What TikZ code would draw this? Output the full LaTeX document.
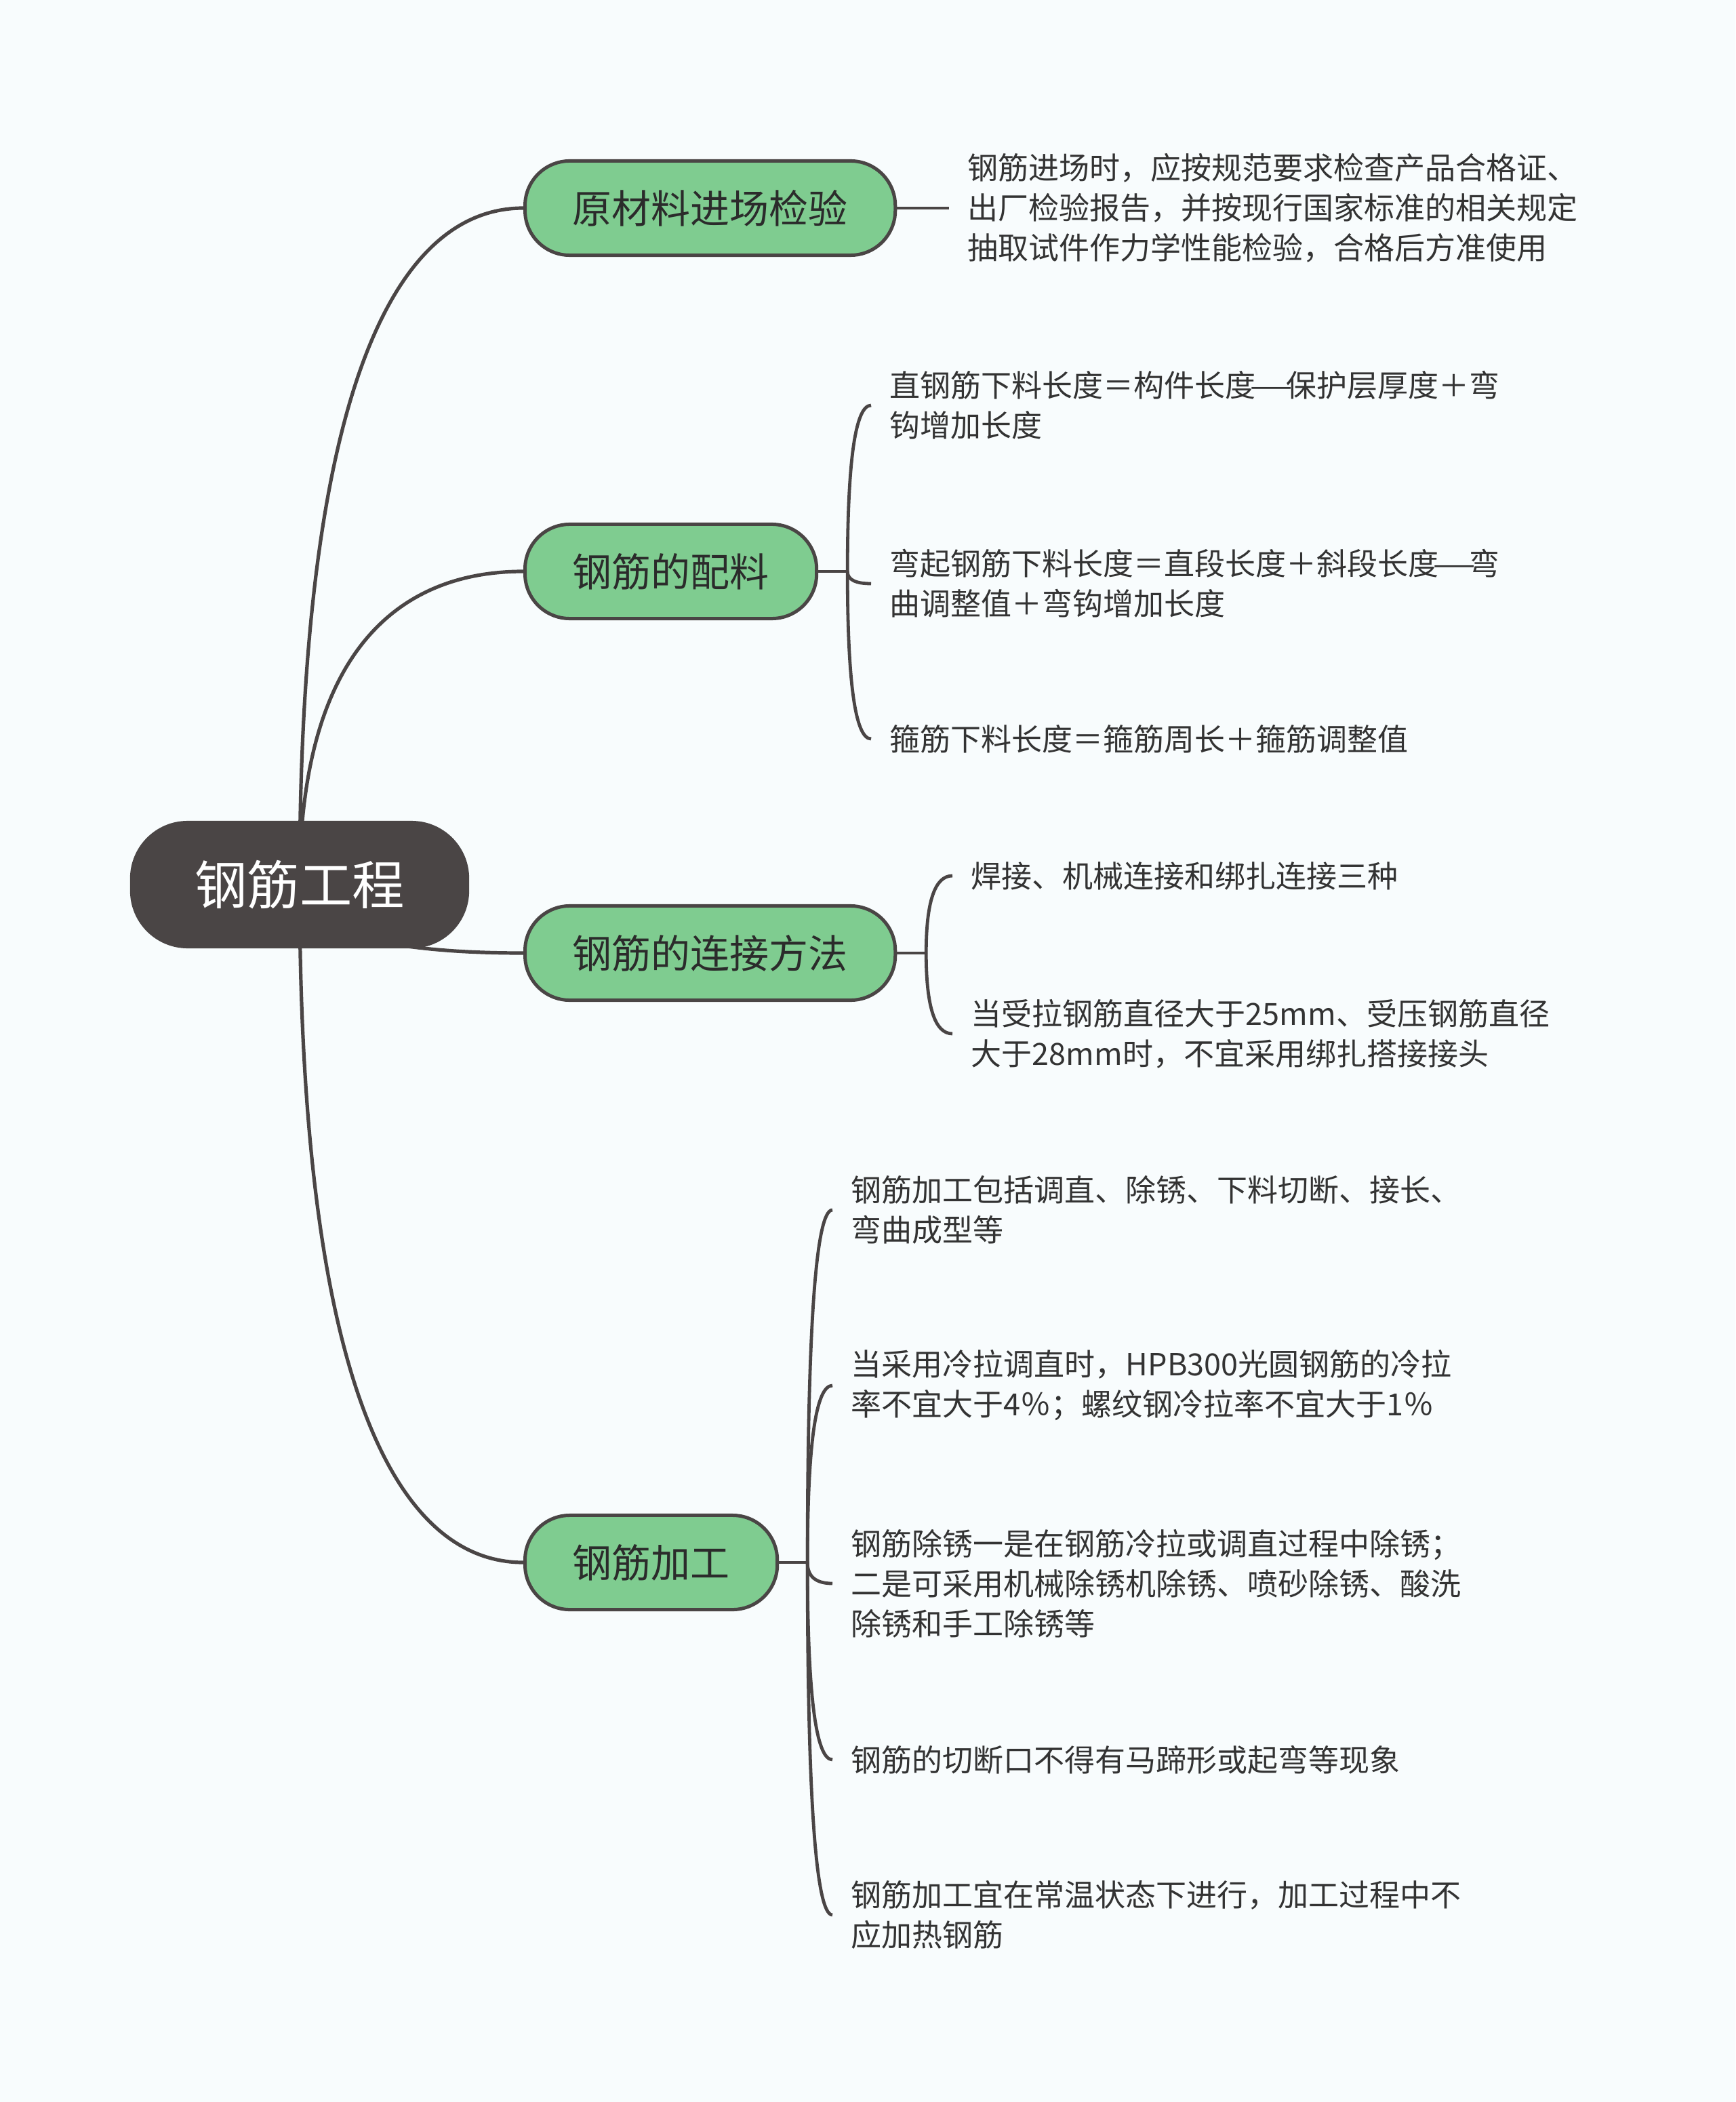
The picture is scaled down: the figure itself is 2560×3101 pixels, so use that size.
\documentclass[tikz,border=0pt]{standalone}
\usepackage{fontspec}
\setmainfont{Noto Sans CJK SC}
\usepackage{xcolor}
\usepackage{tikz}
\usetikzlibrary{calc, backgrounds}

\definecolor{inkgray}{HTML}{4A4545}
\definecolor{leafgreen}{HTML}{7FCC90}
\definecolor{paper}{HTML}{F8FCFD}
\definecolor{textgray}{HTML}{333333}

% full-width dash
\newcommand{\longbar}{\makebox[1em]{\scalebox{1.6}[1]{—}}}

\begin{document}
\begin{tikzpicture}[
  x=0.01cm, y=-0.01cm,
  topic/.style={rectangle, rounded corners=0.85cm, fill=inkgray, text=white, minimum width=5cm, minimum height=1.88cm, font=\fontsize{22}{26}\selectfont},
  branch/.style={rectangle, draw=inkgray, line width=0.05cm, rounded corners=0.66cm, fill=leafgreen, text=textgray!85!black, minimum height=1.39cm, inner xsep=0.7cm, anchor=west, font=\fontsize{16.5}{20}\selectfont},
  leaf/.style={anchor=west, align=left, inner xsep=0.27cm, inner ysep=0pt, text=textgray, font=\fontsize{12.8}{16.8}\selectfont},
  limb/.style={draw=inkgray, line width=0.052cm, to path={.. controls ($(\tikztostart)!0.75!(\tikztostart |- \tikztotarget)$) and ($(\tikztostart |- \tikztotarget)!0.45!(\tikztotarget)$) .. (\tikztotarget)}},
  twig/.style={draw=inkgray, line width=0.048cm, to path={.. controls ($(\tikztostart)!0.667!(\tikztostart |- \tikztotarget)$) and ($(\tikztotarget)!0.667!(\tikztostart |- \tikztotarget)$) .. (\tikztotarget)}},
  stub/.style={draw=inkgray, line width=0.048cm},
]
  \useasboundingbox (0,0) rectangle (2560,3101);

  \node[topic] (root) at (442,1305) {钢筋工程};

  \node[branch] (b1) at (772,307) {原材料进场检验};
  \node[branch] (b2) at (772,843) {钢筋的配料};
  \node[branch] (b3) at (772,1406) {钢筋的连接方法};
  \node[branch] (b4) at (772,2305) {钢筋加工};

  % leaves
  \node[leaf] (l11) at (1400,307) {钢筋进场时，应按规范要求检查产品合格证、\\出厂检验报告，并按现行国家标准的相关规定\\抽取试件作力学性能检验，合格后方准使用};

  \node[leaf] (l21) at (1285,598) {直钢筋下料长度＝构件长度\longbar 保护层厚度＋弯\\钩增加长度};
  \node[leaf] (l22) at (1285,861) {弯起钢筋下料长度＝直段长度＋斜段长度\longbar 弯\\曲调整值＋弯钩增加长度};
  \node[leaf] (l23) at (1285,1090) {箍筋下料长度＝箍筋周长＋箍筋调整值};

  \node[leaf] (l31) at (1405,1292) {焊接、机械连接和绑扎连接三种};
  \node[leaf] (l32) at (1405,1525) {当受拉钢筋直径大于25mm、受压钢筋直径\\大于28mm时，不宜采用绑扎搭接接头};

  \node[leaf] (l41) at (1228,1785) {钢筋加工包括调直、除锈、下料切断、接长、\\弯曲成型等};
  \node[leaf] (l42) at (1228,2044) {当采用冷拉调直时，HPB300光圆钢筋的冷拉\\率不宜大于4％；螺纹钢冷拉率不宜大于1％};
  \node[leaf] (l43) at (1228,2336) {钢筋除锈一是在钢筋冷拉或调直过程中除锈；\\二是可采用机械除锈机除锈、喷砂除锈、酸洗\\除锈和手工除锈等};
  \node[leaf] (l44) at (1228,2596) {钢筋的切断口不得有马蹄形或起弯等现象};
  \node[leaf] (l45) at (1228,2825) {钢筋加工宜在常温状态下进行，加工过程中不\\应加热钢筋};

  \coordinate (s2) at ($(b2.east)+(43,0)$);
  \coordinate (s3) at ($(b3.east)+(43,0)$);
  \coordinate (s4) at ($(b4.east)+(42,0)$);

  \begin{scope}[on background layer]
    \fill[paper] (0,0) rectangle (2560,3101);

    \draw[limb] (root.center) to (b1.west);
    \draw[limb] (root.center) to (b2.west);
    \draw[limb] (root.center) to (b3.west);
    \draw[limb] (root.center) to (b4.west);

    \draw[stub] (b1.east) -- (l11.west);

    \draw[stub] (b2.east) -- (s2);
    \draw[twig] (s2) to (l21.west);
    \draw[twig] (s2) to (l22.west);
    \draw[twig] (s2) to (l23.west);

    \draw[stub] (b3.east) -- (s3);
    \draw[twig] (s3) to (l31.west);
    \draw[twig] (s3) to (l32.west);

    \draw[stub] (b4.east) -- (s4);
    \foreach \n in {1,...,5}
      \draw[twig] (s4) to (l4\n.west);
  \end{scope}
\end{tikzpicture}
\end{document}
